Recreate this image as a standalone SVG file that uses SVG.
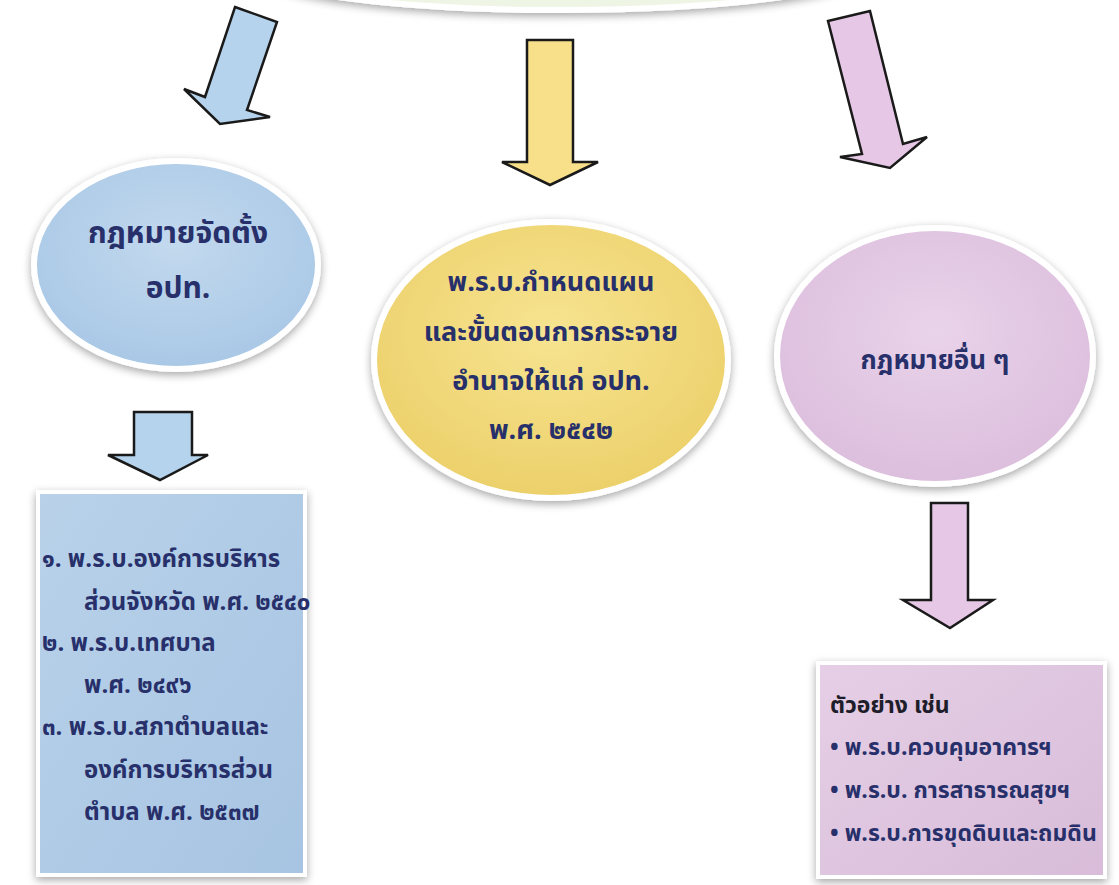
<svg xmlns="http://www.w3.org/2000/svg" width="1119" height="885" viewBox="0 0 1119 885">
  <defs>
    <filter id="sh" x="-20%" y="-20%" width="140%" height="140%">
      <feDropShadow dx="0" dy="3" stdDeviation="4" flood-color="#000" flood-opacity="0.35"/>
    </filter>
    <radialGradient id="gBlue" cx="50%" cy="40%" r="60%">
      <stop offset="0" stop-color="#c3d9ee"/>
      <stop offset="1" stop-color="#a9c8e6"/>
    </radialGradient>
    <radialGradient id="gYel" cx="50%" cy="40%" r="60%">
      <stop offset="0" stop-color="#f7e491"/>
      <stop offset="1" stop-color="#ecd06a"/>
    </radialGradient>
    <radialGradient id="gPink" cx="50%" cy="40%" r="60%">
      <stop offset="0" stop-color="#e9d3ea"/>
      <stop offset="1" stop-color="#dcbedd"/>
    </radialGradient>
    <linearGradient id="gBox1" x1="0" y1="0" x2="1" y2="1">
      <stop offset="0" stop-color="#b9d2ea"/>
      <stop offset="1" stop-color="#a7c4e2"/>
    </linearGradient>
    <linearGradient id="gBox2" x1="0" y1="0" x2="1" y2="1">
      <stop offset="0" stop-color="#e6cfe6"/>
      <stop offset="1" stop-color="#d8bcd9"/>
    </linearGradient>
  </defs>
  <style>
    .t { font-family: "Noto Sans Thai", "Noto Sans", "DejaVu Sans", sans-serif; font-weight: bold; fill: #27306a; }
    .ell { stroke: #ffffff; stroke-width: 6; filter: url(#sh); }
    .box { stroke: #ffffff; stroke-width: 4; filter: url(#sh); }
    .arr { stroke: #1a1a1a; stroke-width: 2.5; stroke-linejoin: miter; }
  </style>
  <rect width="1119" height="885" fill="#ffffff"/>

  <g id="top-node">
    <ellipse cx="560" cy="-30" rx="300" ry="40" fill="#eef5e4" class="ell"/>
  </g>

  <g id="connectors">
    <polygon class="arr" fill="#b5d3ec" points="235,7 277,22 247,110 270,117 220,124 184,89 205,97"/>
    <polygon class="arr" fill="#f8e08a" points="527,40 573,40 573,162 598,162 550,185 502,162 527,162"/>
    <polygon class="arr" fill="#e6c8e6" points="828,21 870,11 903,144 927,137 890,168 840,157 862,154"/>
    <polygon class="arr" fill="#b5d3ec" points="134,412 192,412 192,455 208,455 160,480 108,455 134,455"/>
    <polygon class="arr" fill="#e6c8e6" points="931,503 968,503 968,600 993,600 950,628 903,600 931,600"/>
  </g>

  <g id="node-law-establish">
    <ellipse cx="176" cy="265" rx="142" ry="104" fill="url(#gBlue)" class="ell"/>
    <text class="t" font-size="30" text-anchor="middle" x="178" y="243">กฎหมายจัดตั้ง</text>
    <text class="t" font-size="30" text-anchor="middle" x="178" y="298">อปท.</text>
  </g>

  <g id="node-decentral">
    <ellipse cx="551" cy="360" rx="177" ry="138" fill="url(#gYel)" class="ell"/>
    <text class="t" font-size="27" text-anchor="middle" x="551" y="291">พ.ร.บ.กำหนดแผน</text>
    <text class="t" font-size="27" text-anchor="middle" x="551" y="341">และขั้นตอนการกระจาย</text>
    <text class="t" font-size="27" text-anchor="middle" x="551" y="390">อำนาจให้แก่ อปท.</text>
    <text class="t" font-size="27" text-anchor="middle" x="551" y="439">พ.ศ. ๒๕๔๒</text>
  </g>

  <g id="node-other">
    <ellipse cx="935" cy="356" rx="158" ry="128" fill="url(#gPink)" class="ell"/>
    <text class="t" font-size="26" text-anchor="middle" x="935" y="369">กฎหมายอื่น ๆ</text>
  </g>

  <g id="box-list">
    <rect x="38" y="492" width="267" height="383" fill="url(#gBox1)" class="box"/>
    <text class="t" font-size="24" x="42" y="567">๑. พ.ร.บ.องค์การบริหาร</text>
    <text class="t" font-size="24" x="84" y="610">ส่วนจังหวัด พ.ศ. ๒๕๔๐</text>
    <text class="t" font-size="24" x="42" y="651">๒. พ.ร.บ.เทศบาล</text>
    <text class="t" font-size="24" x="84" y="693">พ.ศ. ๒๔๙๖</text>
    <text class="t" font-size="24" x="42" y="735">๓. พ.ร.บ.สภาตำบลและ</text>
    <text class="t" font-size="24" x="84" y="778">องค์การบริหารส่วน</text>
    <text class="t" font-size="24" x="84" y="820">ตำบล พ.ศ. ๒๕๓๗</text>
  </g>

  <g id="box-examples">
    <rect x="818" y="663" width="287" height="214" fill="url(#gBox2)" class="box"/>
    <text class="t" font-size="23" x="830" y="713" style="fill:#1e1e2a">ตัวอย่าง เช่น</text>
    <text class="t" font-size="23" x="830" y="755">• พ.ร.บ.ควบคุมอาคารฯ</text>
    <text class="t" font-size="23" x="830" y="798">• พ.ร.บ. การสาธารณสุขฯ</text>
    <text class="t" font-size="23" x="830" y="841">• พ.ร.บ.การขุดดินและถมดิน</text>
  </g>
</svg>
